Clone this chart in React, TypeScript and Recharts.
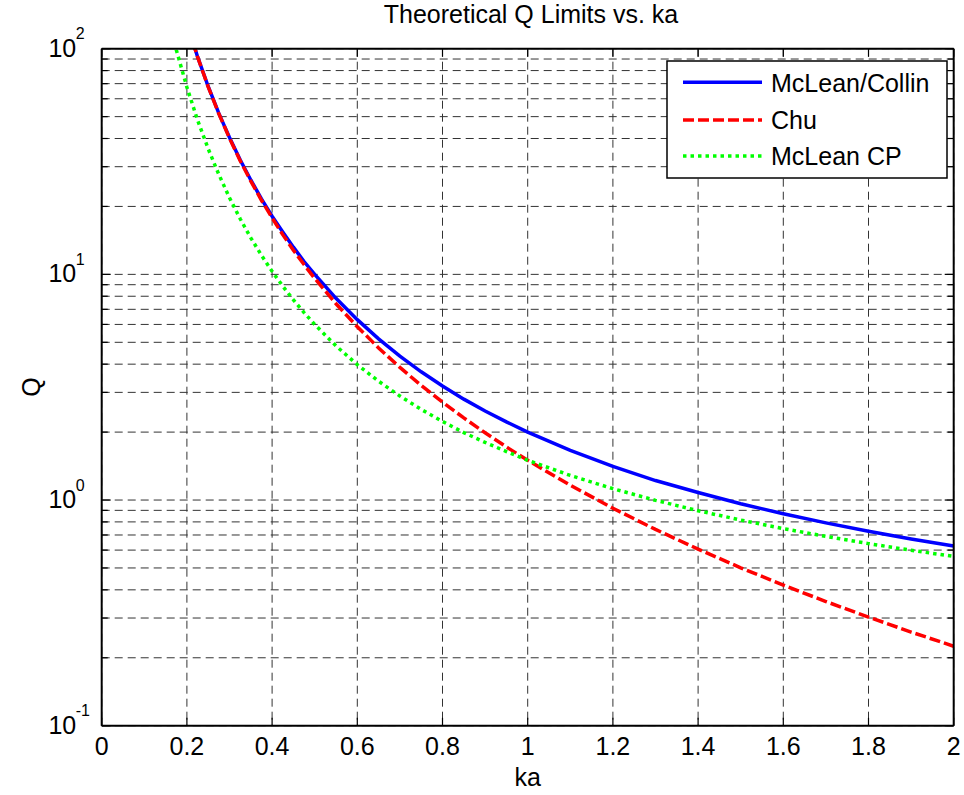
import React from 'react';
import { LineChart, Line, XAxis, YAxis, CartesianGrid } from 'recharts';

// ---- data ----
const kaValues = [0.15, 0.175, 0.2, 0.225, 0.25, 0.275, 0.3, 0.325, 0.35, 0.375, 0.4, 0.425, 0.45, 0.475, 0.5, 0.55, 0.6, 0.65, 0.7, 0.75, 0.8, 0.85, 0.9, 0.95, 1.0, 1.1, 1.2, 1.3, 1.4, 1.5, 1.6, 1.7, 1.8, 1.9, 2.0];
const mcleanCollinQ = [303, 192.3, 130, 92.2, 68, 51.7, 40.4, 32.2, 26.2, 21.6, 18.1, 15.4, 13.2, 11.4, 10, 7.83, 6.3, 5.18, 4.34, 3.7, 3.2, 2.8, 2.48, 2.22, 2.0, 1.66, 1.41, 1.22, 1.08, 0.963, 0.869, 0.792, 0.727, 0.672, 0.625];
const chuQ = [302.8, 192.1, 129.8, 92.0, 67.8, 51.5, 40.1, 31.9, 25.9, 21.3, 17.8, 15.0, 12.8, 11.05, 9.6, 7.41, 5.86, 4.72, 3.87, 3.22, 2.715, 2.311, 1.986, 1.719, 1.5, 1.163, 0.92, 0.741, 0.606, 0.501, 0.42, 0.355, 0.303, 0.26, 0.225];
const mcleanCpQ = [154.8, 99.0, 67.5, 48.3, 36.0, 27.7, 21.85, 17.64, 14.52, 12.15, 10.31, 8.87, 7.71, 6.77, 6.0, 4.82, 3.98, 3.36, 2.89, 2.52, 2.23, 1.99, 1.8, 1.64, 1.5, 1.285, 1.123, 0.997, 0.897, 0.815, 0.747, 0.69, 0.641, 0.599, 0.5625];

const seriesNames = ['McLean/Collin', 'Chu', 'McLean CP'];
const xTicks = [0, 0.2, 0.4, 0.6, 0.8, 1, 1.2, 1.4, 1.6, 1.8, 2];
const xTickLabels = ['0', '0.2', '0.4', '0.6', '0.8', '1', '1.2', '1.4', '1.6', '1.8', '2'];
const yGridTicks = [0.1, 0.2, 0.3, 0.4, 0.5, 0.6, 0.7, 0.8, 0.9, 1, 2, 3, 4, 5, 6, 7, 8, 9, 10, 20, 30, 40, 50, 60, 70, 80, 90, 100];
const yMajorTicks = [0.1, 1, 10, 100];
const yMajorExponents = ['-1', '0', '1', '2'];
const titleText = 'Theoretical Q Limits vs. ka';
const xLabelText = 'ka';
const yLabelText = 'Q';

const data = kaValues.map((ka, i) => ({ ka, mc: mcleanCollinQ[i], chu: chuQ[i], cp: mcleanCpQ[i] }));

const FONT = '"Liberation Sans", Arial, Helvetica, sans-serif';
const W = 964;
const H = 795;
const BLUE = '#0000ff';
const RED = '#ff0000';
const GREEN = '#00ff00';

const BottomTick = (props: any) => {
  const { x, y, payload } = props;
  const idx = xTicks.findIndex((t) => Math.abs(t - payload.value) < 1e-9);
  return (
    <g>
      <line x1={x} y1={y} x2={x} y2={y - 8} stroke="#000" strokeWidth={1.2} />
      <text x={x} y={y + 29.5} textAnchor="middle" fontSize={25} fontFamily={FONT} fill="#000">
        {idx >= 0 ? xTickLabels[idx] : ''}
      </text>
    </g>
  );
};

const TopTick = (props: any) => {
  const { x, y } = props;
  return <line x1={x} y1={y} x2={x} y2={y + 8} stroke="#000" strokeWidth={1.2} />;
};

const LeftTick = (props: any) => {
  const { x, y, payload } = props;
  const mi = yMajorTicks.findIndex((t) => Math.abs(t - payload.value) / t < 1e-6);
  const major = mi >= 0;
  return (
    <g>
      <line x1={x} y1={y} x2={x + (major ? 9 : 6)} y2={y} stroke="#000" strokeWidth={1.2} />
      {major && (
        <text x={x - 25.5} y={y + 8} textAnchor="end" fontSize={25} fontFamily={FONT} fill="#000">
          10
        </text>
      )}
      {major && (
        <text x={x - 26} y={y - 9.5} textAnchor="start" fontSize={16} fontFamily={FONT} fill="#000">
          {yMajorExponents[mi]}
        </text>
      )}
    </g>
  );
};

const RightTick = (props: any) => {
  const { x, y, payload } = props;
  const major = yMajorTicks.some((t) => Math.abs(t - payload.value) / t < 1e-6);
  return <line x1={x} y1={y} x2={x - (major ? 9 : 6)} y2={y} stroke="#000" strokeWidth={1.2} />;
};

const legendRows = [
  { name: seriesNames[0], color: BLUE, dash: undefined as string | undefined, y: 82.3 },
  { name: seriesNames[1], color: RED, dash: '11 4', y: 120 },
  { name: seriesNames[2], color: GREEN, dash: '3.5 4', y: 156 },
];

export default function App() {
  return (
    <div style={{ position: 'absolute', left: 0, top: 0, width: W, height: H, background: '#fff' }}>
      <LineChart
        width={W}
        height={H}
        data={data}
        margin={{ top: 47.7, right: 9.3, bottom: 9.3, left: 0 }}
      >
        <CartesianGrid xAxisId="b" yAxisId="l" stroke="#333" strokeDasharray="8 5" strokeWidth={1} />
        <XAxis
          xAxisId="b"
          dataKey="ka"
          type="number"
          domain={[0, 2]}
          allowDataOverflow
          ticks={xTicks}
          interval={0}
          height={60}
          tickSize={0}
          tickMargin={0}
          tickLine={false}
          tick={<BottomTick />}
          axisLine={{ stroke: '#000', strokeWidth: 2 }}
        />
        <XAxis
          xAxisId="t"
          dataKey="ka"
          orientation="top"
          type="number"
          domain={[0, 2]}
          allowDataOverflow
          ticks={xTicks}
          interval={0}
          height={1}
          tickSize={0}
          tickMargin={0}
          tickLine={false}
          tick={<TopTick />}
          axisLine={{ stroke: '#000', strokeWidth: 2 }}
        />
        <YAxis
          yAxisId="l"
          type="number"
          scale="log"
          domain={[0.1, 100]}
          allowDataOverflow
          ticks={yGridTicks}
          interval={0}
          width={101.7}
          tickSize={0}
          tickMargin={0}
          tickLine={false}
          tick={<LeftTick />}
          axisLine={{ stroke: '#000', strokeWidth: 2 }}
        />
        <YAxis
          yAxisId="r"
          orientation="right"
          type="number"
          scale="log"
          domain={[0.1, 100]}
          allowDataOverflow
          ticks={yGridTicks}
          interval={0}
          width={1}
          tickSize={0}
          tickMargin={0}
          tickLine={false}
          tick={<RightTick />}
          axisLine={{ stroke: '#000', strokeWidth: 2 }}
        />
        <Line xAxisId="b" yAxisId="l" type="linear" dataKey="mc" name={seriesNames[0]} stroke={BLUE} strokeWidth={3.5} dot={false} isAnimationActive={false} />
        <Line xAxisId="b" yAxisId="l" type="linear" dataKey="chu" name={seriesNames[1]} stroke={RED} strokeWidth={3.5} strokeDasharray="11 4" dot={false} isAnimationActive={false} />
        <Line xAxisId="b" yAxisId="l" type="linear" dataKey="cp" name={seriesNames[2]} stroke={GREEN} strokeWidth={3.5} strokeDasharray="3.5 4" dot={false} isAnimationActive={false} />

        <text x={531} y={23} textAnchor="middle" fontSize={25} fontFamily={FONT} fill="#000">{titleText}</text>
        <text x={527.7} y={786} textAnchor="middle" fontSize={25} fontFamily={FONT} fill="#000">{xLabelText}</text>
        <text x={0} y={0} transform="translate(31,387) rotate(-90)" textAnchor="middle" dy="0.36em" fontSize={25} fontFamily={FONT} fill="#000">{yLabelText}</text>

        <g>
          <rect x={667} y={61} width={280} height={117} fill="#fff" stroke="#000" strokeWidth={1.5} />
          {legendRows.map((r) => (
            <g key={r.name}>
              <line x1={683} y1={r.y} x2={762} y2={r.y} stroke={r.color} strokeWidth={3.5} strokeDasharray={r.dash} />
              <text x={771} y={r.y + 9.3} fontSize={25} fontFamily={FONT} fill="#000">{r.name}</text>
            </g>
          ))}
        </g>
      </LineChart>
    </div>
  );
}
